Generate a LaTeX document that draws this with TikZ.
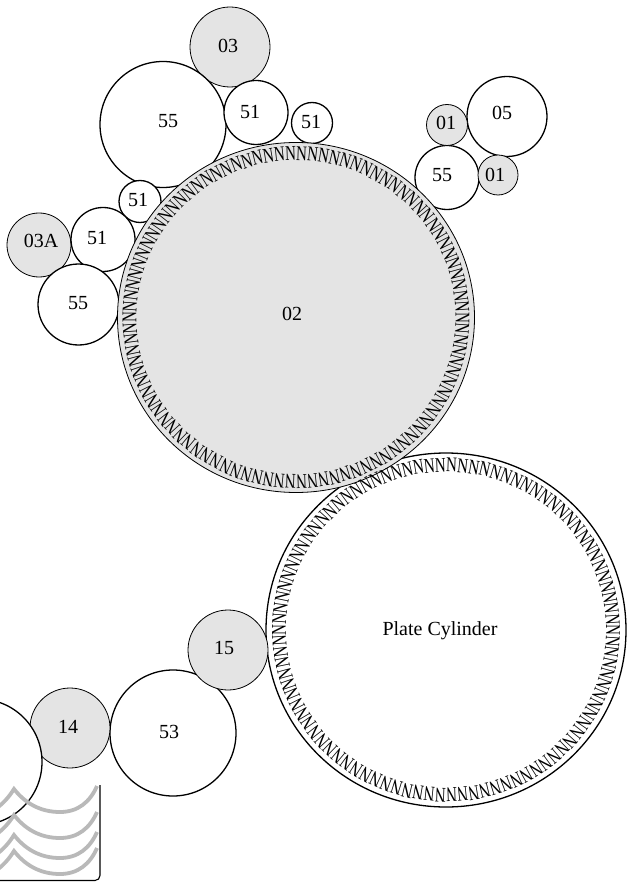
\documentclass[tikz,border=0pt]{standalone}
\usepackage{fontspec}
\setmainfont{Liberation Serif}
\definecolor{inkgray}{HTML}{E4E4E4}
\definecolor{wavegray}{HTML}{B9B9B9}
\tikzset{
    roll/.style={draw, fill=white, line width=1.3},
    inkroll/.style={draw, fill=inkgray, line width=0.8},
    tag/.style={inner sep=0, font=\fontsize{20}{20}\selectfont},
    blanket/.style={inner sep=0, font=\fontsize{21}{21}\selectfont, xscale=0.72},
    wave/.style={draw=wavegray, line width=3.8}
}
\begin{document}
\begin{tikzpicture}[x=1pt, y=-1pt]
    \useasboundingbox (0,0) rectangle (630,882);

    % plate cylinder
    \draw[line width=1.3] (446,630) ellipse (180 and 177);

    % upper train
    \draw[inkroll] (230,47) circle (40);
    \draw[roll] (163,124.5) circle (63);
    \draw[roll] (256,112.5) circle (32);
    \draw[roll] (312,123) circle (20.5);
    \node[tag] (t03) at (228,46) {03};
    \node[tag] (t55a) at (168,121) {55};
    \node[tag] (t51a) at (250,112) {51};
    \node[tag] (t51b) at (311,122) {51};

    % left train
    \draw[inkroll] (39,245) circle (32);
    \draw[roll] (140,201.5) circle (21);
    \draw[roll] (103,239.5) circle (32);
    \draw[roll] (78.5,304.5) circle (40.5);
    \node[tag] (t51c) at (138,200) {51};
    \node[tag] (t03a) at (41,241) {03A};
    \node[tag] (t51d) at (97,238) {51};
    \node[tag] (t55b) at (78,303) {55};

    % right train
    \draw[roll] (507,116.5) circle (40);
    \draw[roll] (447,177.5) circle (32);
    \draw[inkroll] (447,125) circle (20.5);
    \draw[inkroll] (498,175) circle (20);
    \node[tag] (t05) at (502,113) {05};
    \node[tag] (t01a) at (446,123) {01};
    \node[tag] (t55c) at (442,175) {55};
    \node[tag] (t01b) at (495,175) {01};

    % blanket cylinder
    \draw[inkroll] (296,317.5) ellipse (178.5 and 175);
    \begin{scope}[shift={(296,317.5)}]
        \foreach \i [evaluate=\i as \ang using \i*3.83] in {1,...,94} {
            \node[rotate=-\ang-90, blanket] (b\i) at (\ang:166.5 and 164) {N};
        }
    \end{scope}
    \begin{scope}[shift={(446,630)}]
        \foreach \i [evaluate=\i as \ang using \i*3.83] in {1,...,94} {
            \node[rotate=-\ang-90, blanket] (p\i) at (\ang:167 and 165) {N};
        }
    \end{scope}
    \node[tag] (t02) at (292,314) {02};
    \node[tag] (tplate) at (440,631) {Plate Cylinder};

    % inking rolls
    \draw[roll] (173,733) circle (63);
    \draw[inkroll] (228,650) circle (40);
    \draw[inkroll] (70,728) circle (40);
    \draw[roll] (-21,762) circle (63);
    \node[tag] (t15) at (224,648) {15};
    \node[tag] (t53) at (169,732) {53};
    \node[tag] (t14) at (68,727) {14};

    % fountain
    \foreach \dy in {0,26,46,62} {
        \draw[wave, yshift=-\dy] (-6,810) .. controls (3,804) and (9,797) .. (14,789)
            .. controls (25,803) and (40,812) .. (60,812)
            .. controls (78,812) and (90,802) .. (97,786);
    }
    \draw[line width=1.1, rounded corners=5] (100,785) -- (100,880.5) -- (-3,880.5);
\end{tikzpicture}
\end{document}
